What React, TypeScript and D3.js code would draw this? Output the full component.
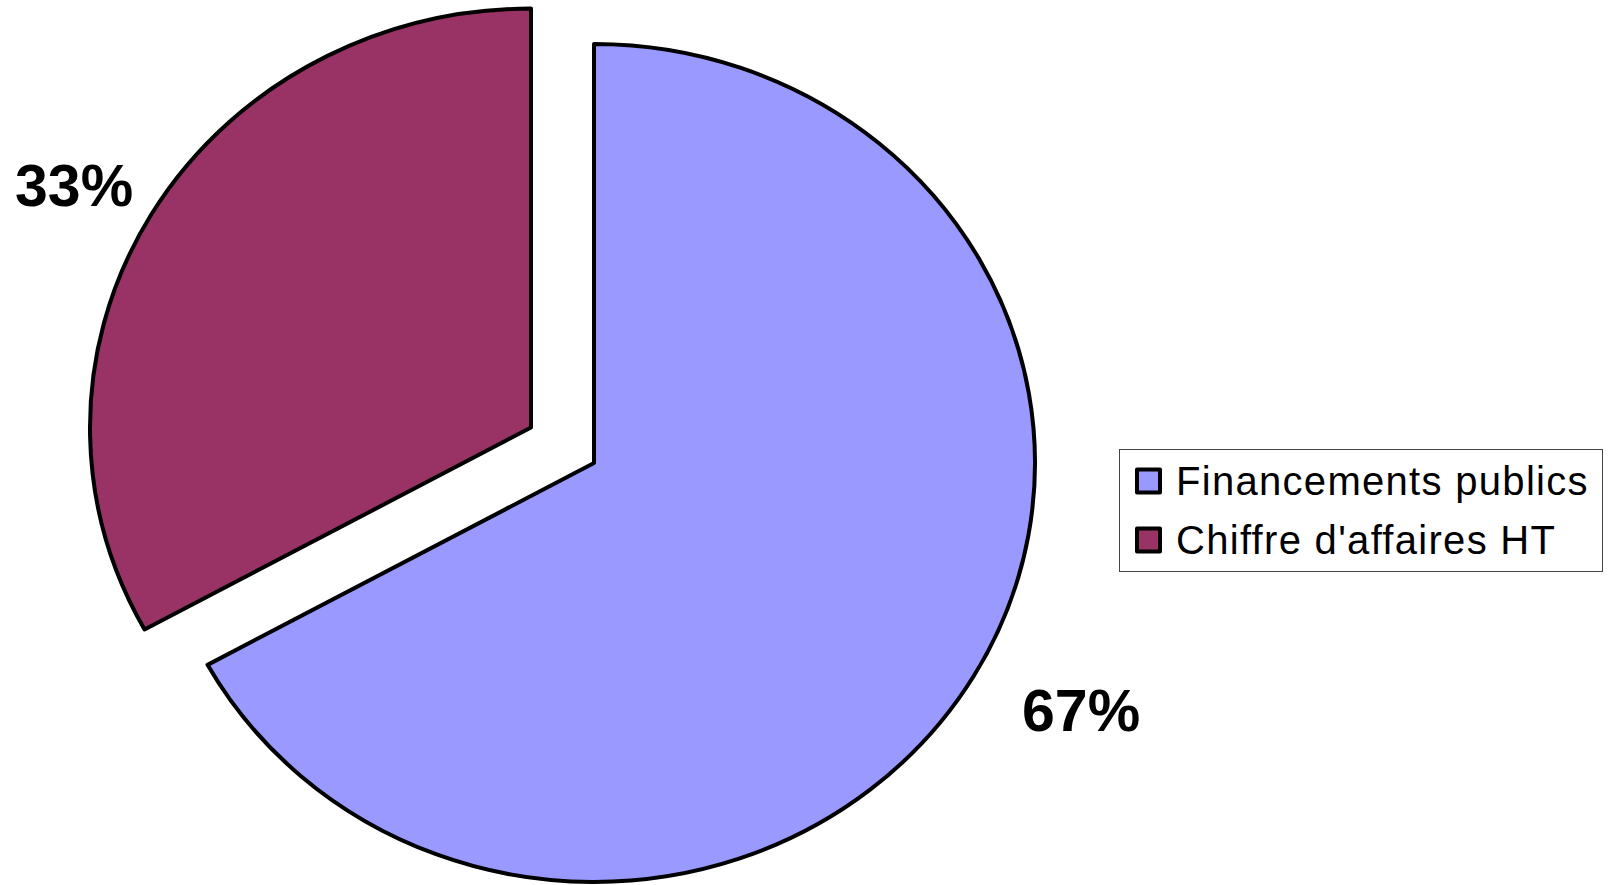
import React from "react";
import * as d3 from "d3";

const categories = ["Financements publics", "Chiffre d'affaires HT"];
const values = [67, 33];
const labels = ["67%", "33%"];
const colors = ["#9999FF", "#993366"];
const exploded = [false, true];

const W = 1609;
const H = 885;

export default function App() {
  const cx = 594;
  const cy = 463;
  const ry = 419;
  const rx = 441;
  const sx = rx / ry;
  const explode = 0.166 * ry;

  const pie = d3.pie<number>().sort(null).value((d) => d);
  const arcs = pie(values);
  const arc = d3.arc<d3.PieArcDatum<number>>().innerRadius(0).outerRadius(ry);

  const labelPos = [
    { x: 1022, y: 731 },
    { x: 15, y: 206 },
  ];

  return (
    <svg
      width={W}
      height={H}
      style={{ position: "absolute", left: 0, top: 0, background: "#fff" }}
      fontFamily="'Liberation Sans', Arial, sans-serif"
    >
      <rect x={0} y={0} width={W} height={H} fill="#fff" />
      <g transform={`translate(${cx},${cy}) scale(${sx},1)`}>
        {arcs.map((a, i) => {
          const mid = (a.startAngle + a.endAngle) / 2;
          const off = exploded[i] ? explode : 0;
          const dx = Math.sin(mid) * off;
          const dy = -Math.cos(mid) * off;
          return (
            <path
              key={i}
              d={arc(a) || ""}
              transform={`translate(${dx},${dy})`}
              fill={colors[i]}
              stroke="#000"
              strokeWidth={4}
              strokeLinejoin="round"
              vectorEffect="non-scaling-stroke"
            />
          );
        })}
      </g>
      {labels.map((l, i) => (
        <text
          key={i}
          x={labelPos[i].x}
          y={labelPos[i].y}
          fontSize={59}
          fontWeight="bold"
          fill="#000"
        >
          {l}
        </text>
      ))}
      <g>
        <rect x={1119.5} y={449.5} width={483} height={122} fill="#fff" stroke="#444" strokeWidth={1} />
        {categories.map((c, i) => (
          <g key={i} transform={`translate(0,${i * 59})`}>
            <rect
              x={1137}
              y={469.5}
              width={23}
              height={23}
              fill={colors[i]}
              stroke="#000"
              strokeWidth={4}
              strokeLinejoin="round"
            />
            <text x={1176} y={495} fontSize={40} letterSpacing={1.3} fill="#000">
              {c}
            </text>
          </g>
        ))}
      </g>
    </svg>
  );
}
